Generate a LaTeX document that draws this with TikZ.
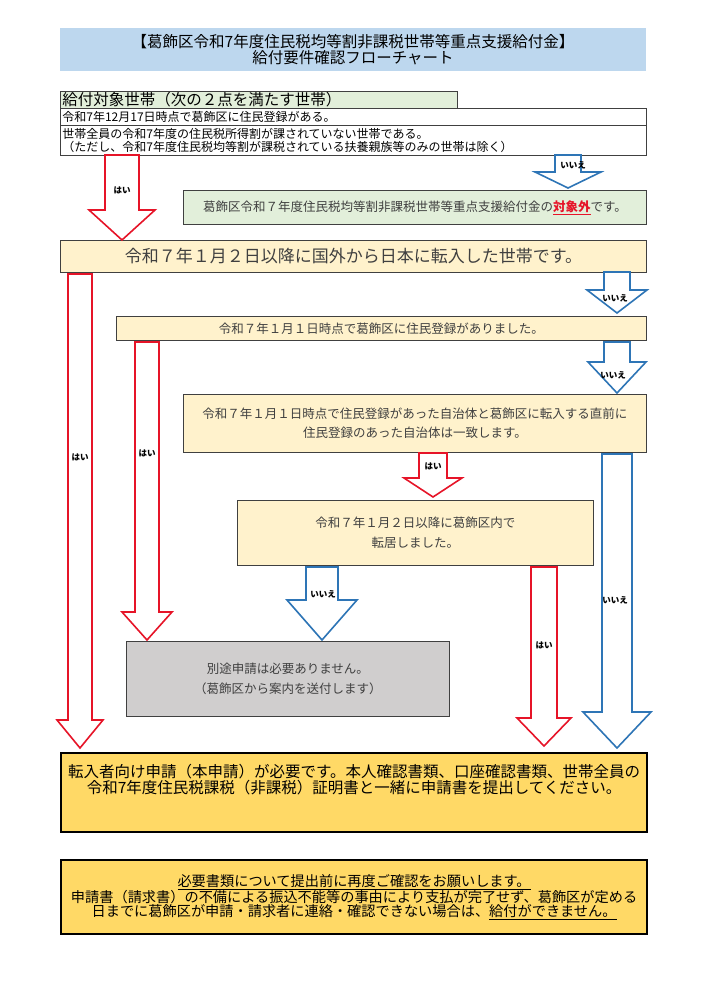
\documentclass[tikz,border=0pt]{standalone}
\usepackage{fontspec}
\setmainfont{Noto Sans CJK JP}
\usepackage{tikz}
\usetikzlibrary{positioning}
\definecolor{titleblue}{RGB}{189,215,238}
\definecolor{hdrgreen}{RGB}{226,239,218}
\definecolor{creamfill}{RGB}{255,242,204}
\definecolor{goldfill}{RGB}{255,217,102}
\definecolor{grayfill}{RGB}{208,206,206}
\definecolor{yesred}{RGB}{230,20,40}
\definecolor{noblue}{RGB}{46,117,182}
\definecolor{txtgray}{RGB}{64,64,64}
\newcommand{\fs}[1]{\fontsize{#1}{#1}\selectfont}
% block arrow: colour, centre x, top y, head y, tip y, half shaft, half head
\newcommand{\blockarr}[7]{%
  \draw[#1, line width=1.6pt, fill=white, line join=miter]
    ({#2-#6},#3) -- ({#2+#6},#3) -- ({#2+#6},#4) -- ({#2+#7},#4) -- (#2,#5)
    -- ({#2-#7},#4) -- ({#2-#6},#4) -- cycle;}
\begin{document}
\begin{tikzpicture}[
    x=1pt, y=-1pt,
    box/.style={rectangle, draw=black!75, line width=0.8pt, fill=#1, inner sep=0pt, align=center, text=txtgray},
    bigbox/.style={rectangle, draw=black, line width=2.2pt, fill=goldfill, inner sep=0pt, align=center},
    lbl/.style={font=\fs{8.5}\bfseries, inner sep=0pt}
  ]
  \useasboundingbox (0,0) rectangle (707,1000);

  % title
  \node[box=titleblue, draw=none, text=black, minimum width=586pt, minimum height=43pt, font=\fs{15.5}] (title) at (353,49.5)
    {【葛飾区令和7年度住民税均等割非課税世帯等重点支援給付金】\\[1pt]給付要件確認フローチャート};

  % requirements
  \node[box=hdrgreen, text=black, minimum width=397pt, minimum height=17pt, font=\fs{15.5}, anchor=north west] (req) at (60,91)
    {\makebox[393pt][l]{給付対象世帯（次の２点を満たす世帯）}};
  \node[box=white, text=black, minimum width=586pt, minimum height=17pt, font=\fs{12}, anchor=north west] (req1) at (60,108)
    {\makebox[582pt][l]{令和7年12月17日時点で葛飾区に住民登録がある。}};
  \node[box=white, text=black, minimum width=586pt, minimum height=30pt, font=\fs{12}, anchor=north west, align=left] (req2) at (60,125)
    {\makebox[582pt][l]{世帯全員の令和7年度の住民税所得割が課されていない世帯である。}\\[1pt]
     \makebox[582pt][l]{（ただし、令和7年度住民税均等割が課税されている扶養親族等のみの世帯は除く）}};

  \node[box=hdrgreen, minimum width=463pt, minimum height=34pt, font=\fs{12.5}, anchor=north west] (excl) at (183,190)
    {葛飾区令和７年度住民税均等割非課税世帯等重点支援給付金の\textcolor{yesred}{\bfseries\underline{対象外}}です。};

  \node[box=creamfill, minimum width=586pt, minimum height=32pt, font=\fs{17}, anchor=north west] (qa) at (60,240)
    {令和７年１月２日以降に国外から日本に転入した世帯です。};
  \node[box=creamfill, minimum width=530pt, minimum height=24pt, font=\fs{12.5}, anchor=north west] (qb) at (116,316)
    {令和７年１月１日時点で葛飾区に住民登録がありました。};
  \node[box=creamfill, minimum width=463pt, minimum height=58pt, font=\fs{12.5}, anchor=north west] (qc) at (183,394)
    {令和７年１月１日時点で住民登録があった自治体と葛飾区に転入する直前に\\[6pt]住民登録のあった自治体は一致します。};
  \node[box=creamfill, minimum width=356pt, minimum height=65pt, font=\fs{12.5}, anchor=north west] (qd) at (237,500)
    {令和７年１月２日以降に葛飾区内で\\[8pt]転居しました。};
  \node[box=grayfill, minimum width=323pt, minimum height=75pt, font=\fs{12.5}, anchor=north west] (nofile) at (126,641)
    {別途申請は必要ありません。\\[8pt]（葛飾区から案内を送付します）};

  \node[bigbox, minimum width=586pt, minimum height=79pt, font=\fs{15.5}, anchor=north west] (apply) at (60,752)
    {転入者向け申請（本申請）が必要です。本人確認書類、口座確認書類、世帯全員の\\令和7年度住民税課税（非課税）証明書と一緒に申請書を提出してください。\\[12pt]};
  \node[bigbox, minimum width=586pt, minimum height=74pt, font=\fs{14.2}, anchor=north west] (note) at (60,859)
    {\underline{必要書類について提出前に再度ご確認をお願いします。}\\
     申請書（請求書）の不備による振込不能等の事由により支払が完了せず、葛飾区が定める\\
     日までに葛飾区が申請・請求者に連絡・確認できない場合は、\underline{給付ができません。}};

  % connectors
  \blockarr{yesred}{122}{155}{210}{240}{17}{33}
  \node[lbl] (y1) at (122,190) {はい};
  \blockarr{noblue}{568}{155}{172}{188}{13}{33}
  \node[lbl] (n1) at (573,165) {いいえ};

  \blockarr{yesred}{80}{274}{720}{748}{12}{23}
  \node[lbl] (y2) at (80,457) {はい};
  \blockarr{noblue}{617}{272}{290}{313}{13}{30}
  \node[lbl] (n2) at (615,298) {いいえ};

  \blockarr{yesred}{147}{342}{612}{640}{12}{25}
  \node[lbl] (y3) at (147,453) {はい};
  \blockarr{noblue}{617}{342}{362}{393}{13}{29}
  \node[lbl] (n3) at (613,375) {いいえ};

  \blockarr{yesred}{433}{453}{478}{497}{14}{29}
  \node[lbl] (y4) at (433,466) {はい};
  \blockarr{noblue}{617}{454}{712}{748}{15}{34}
  \node[lbl] (n4) at (615,600) {いいえ};

  \blockarr{yesred}{544}{567}{718}{746}{13}{27}
  \node[lbl] (y5) at (544,645) {はい};
  \blockarr{noblue}{322}{567}{600}{640}{16}{35}
  \node[lbl] (n5) at (323,594) {いいえ};
\end{tikzpicture}
\end{document}
